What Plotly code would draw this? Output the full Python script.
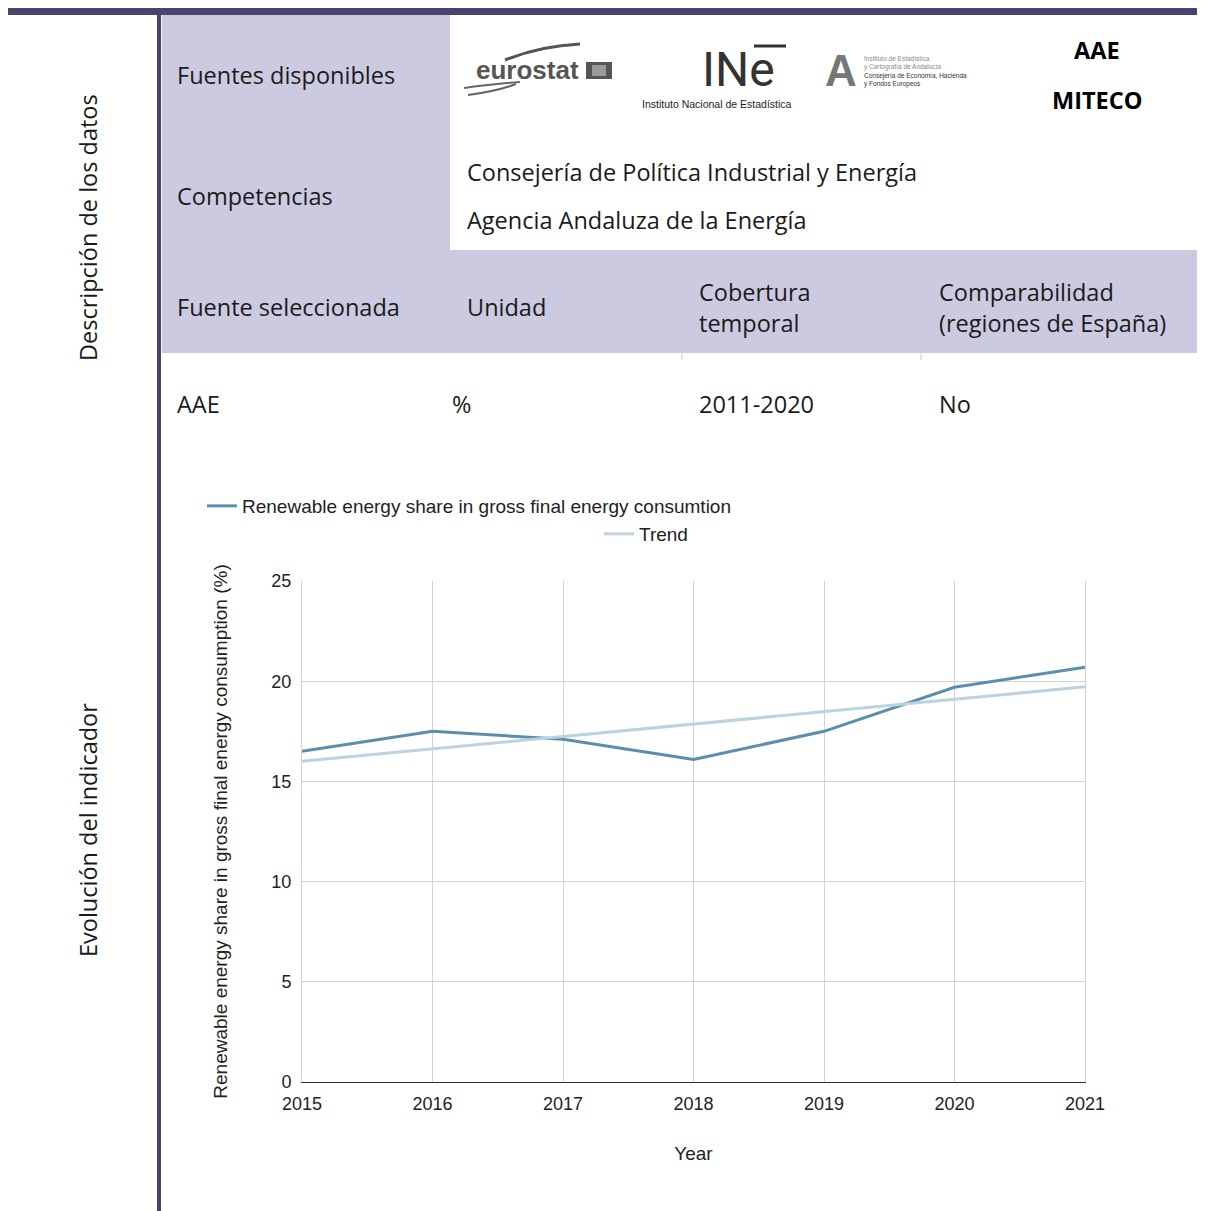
import plotly.graph_objects as go

# ---------------- data ----------------
years = [2015, 2016, 2017, 2018, 2019, 2020, 2021]
renewable_share = [16.5, 17.5, 17.1, 16.1, 17.5, 19.7, 20.7]
trend = [16.0, 16.62, 17.24, 17.86, 18.48, 19.1, 19.72]
y_ticks = [0, 5, 10, 15, 20, 25]

series_name = "Renewable energy share in gross final energy consumtion"
trend_name = "Trend"
y_title = "Renewable energy share in gross final energy consumption (%)"
x_title = "Year"

OFF = 8  # page body margin
W, H = 1205 - OFF, 1211 - OFF
NAVY = "#47456f"
LAV = "#cccae1"
TFONT = "Open Sans"
TSIZE = 23.5


def px(x):
    return (x - OFF) / W


def py(y):
    return 1 - (y - OFF) / H


fig = go.Figure()
fig.add_trace(go.Scatter(x=years, y=renewable_share, mode="lines", name=series_name,
                         line=dict(color="#5a8fab", width=3), legend="legend"))
fig.add_trace(go.Scatter(x=years, y=trend, mode="lines", name=trend_name,
                         line=dict(color="#bcd3df", width=3), legend="legend2"))

shapes = []
# top band and vertical rule
shapes.append(dict(type="rect", xref="paper", yref="paper", x0=px(8), x1=px(1205), y0=py(15), y1=py(8),
                   fillcolor=NAVY, line=dict(width=0), layer="below"))
shapes.append(dict(type="rect", xref="paper", yref="paper", x0=px(157), x1=px(161), y0=0, y1=py(15),
                   fillcolor=NAVY, line=dict(width=0), layer="below"))
# lavender cells
shapes.append(dict(type="rect", xref="paper", yref="paper", x0=px(162), x1=px(450), y0=py(250), y1=py(15),
                   fillcolor=LAV, line=dict(width=0), layer="below"))
shapes.append(dict(type="rect", xref="paper", yref="paper", x0=px(162), x1=px(1205), y0=py(353), y1=py(250),
                   fillcolor=LAV, line=dict(width=0), layer="below"))
# small cell separators
for xx in (682, 921):
    shapes.append(dict(type="line", xref="paper", yref="paper", x0=px(xx), x1=px(xx), y0=py(360), y1=py(353),
                       line=dict(color="#c8c8d8", width=1), layer="below"))
# eurostat flag box + swooshes
shapes.append(dict(type="rect", xref="paper", yref="paper", x0=px(586), x1=px(612), y0=py(79), y1=py(62),
                   fillcolor="#555555", line=dict(width=0)))
shapes.append(dict(type="rect", xref="paper", yref="paper", x0=px(592), x1=px(606), y0=py(76), y1=py(65),
                   fillcolor="#9a9a9a", line=dict(width=0)))
shapes.append(dict(type="path", xref="paper", yref="paper",
                   path=f"M {px(505)} {py(60)} Q {px(540)} {py(46)} {px(580)} {py(44)}",
                   line=dict(color="#555555", width=3)))
shapes.append(dict(type="path", xref="paper", yref="paper",
                   path=f"M {px(464)} {py(88)} Q {px(495)} {py(84)} {px(520)} {py(82)}",
                   line=dict(color="#666666", width=2)))
shapes.append(dict(type="path", xref="paper", yref="paper",
                   path=f"M {px(468)} {py(95)} Q {px(498)} {py(91)} {px(516)} {py(84)}",
                   line=dict(color="#666666", width=2)))
# INE macron
shapes.append(dict(type="line", xref="paper", yref="paper", x0=px(754), x1=px(786), y0=py(46), y1=py(46),
                   line=dict(color="#333333", width=3)))

ann = []


def text(x, y, s, size=TSIZE, color="#1a1a1a", xanchor="left", family=TFONT, textangle=0,
         yanchor="middle"):
    ann.append(dict(x=px(x), y=py(y), xref="paper", yref="paper", text=s, showarrow=False,
                    xanchor=xanchor, yanchor=yanchor, textangle=textangle, align="left",
                    font=dict(family=family, size=size, color=color)))


text(88, 228, "Descripción de los datos", size=23.5, xanchor="center", textangle=-90)
text(88, 830, "Evolución del indicador", size=23.5, xanchor="center", textangle=-90)
text(175, 75, "Fuentes disponibles")
text(175, 196, "Competencias")
text(465, 172, "Consejería de Política Industrial y Energía")
text(465, 220, "Agencia Andaluza de la Energía")
text(175, 307, "Fuente seleccionada")
text(465, 307, "Unidad")
text(697, 292, "Cobertura")
text(697, 323, "temporal")
text(937, 292, "Comparabilidad")
text(937, 323, "(regiones de España)")
text(175, 404, "AAE")
text(450, 404, "%")
text(697, 404, "2011-2020")
text(937, 404, "No")
text(1097, 50, "<b>AAE</b>", size=23.5, color="#000000", xanchor="center")
text(1097, 100, "<b>MITECO</b>", size=23.5, color="#000000", xanchor="center")
# logos as text
text(474, 70, "<b>eurostat</b>", size=26, color="#555555", family="Liberation Sans")
text(700, 69, "INe", size=48, color="#333333", xanchor="left", family="Roboto")
text(717, 104, "Instituto Nacional de Estadística", size=10.5, color="#222222", xanchor="center",
     family="Liberation Sans")
text(841, 71, "<b>A</b>", size=44, color="#777777", xanchor="center", family="Liberation Sans")
text(862, 58, "Instituto de Estadística", size=6.5, color="#888888", family="Liberation Sans")
text(862, 67, "y Cartografía de Andalucía", size=6.5, color="#888888", family="Liberation Sans")
text(862, 76, "Consejería de Economía, Hacienda", size=6.5, color="#333333", family="Liberation Sans")
text(862, 84, "y Fondos Europeos", size=6.5, color="#333333", family="Liberation Sans")

CF = "Liberation Sans"
fig.update_layout(
    width=W, height=H, autosize=False,
    margin=dict(l=0, r=0, t=0, b=0),
    paper_bgcolor="white", plot_bgcolor="white",
    shapes=shapes, annotations=ann,
    font=dict(family=CF, size=18, color="#222222"),
    showlegend=True,
    legend=dict(orientation="h", x=px(202), y=py(506), xanchor="left", yanchor="middle",
                font=dict(family=CF, size=19, color="#222222"), bgcolor="rgba(0,0,0,0)"),
    legend2=dict(orientation="h", x=px(599), y=py(534), xanchor="left", yanchor="middle",
                 font=dict(family=CF, size=19, color="#222222"), bgcolor="rgba(0,0,0,0)"),
    xaxis=dict(domain=[px(302), px(1085)], range=[2015, 2021], tickmode="array", tickvals=years,
               showgrid=True, gridcolor="#d3d3d3", gridwidth=1, showline=True, linecolor="#333333",
               linewidth=1, ticks="", ticklabelstandoff=5, tickfont=dict(family=CF, size=18, color="#222222"),
               title=dict(text=x_title, font=dict(family=CF, size=19, color="#222222"), standoff=34),
               zeroline=False, fixedrange=True, automargin=False),
    yaxis=dict(domain=[py(1082), py(581)], range=[0, 25], tickmode="array", tickvals=y_ticks,
               showgrid=True, gridcolor="#d3d3d3", gridwidth=1, showline=True, linecolor="#d3d3d3",
               mirror=True, ticks="", ticklabelstandoff=6, tickfont=dict(family=CF, size=18, color="#222222"),
               title=dict(text=y_title, font=dict(family=CF, size=19, color="#222222"), standoff=38),
               zeroline=False, fixedrange=True, automargin=False),
)

fig.write_html("out.html")
